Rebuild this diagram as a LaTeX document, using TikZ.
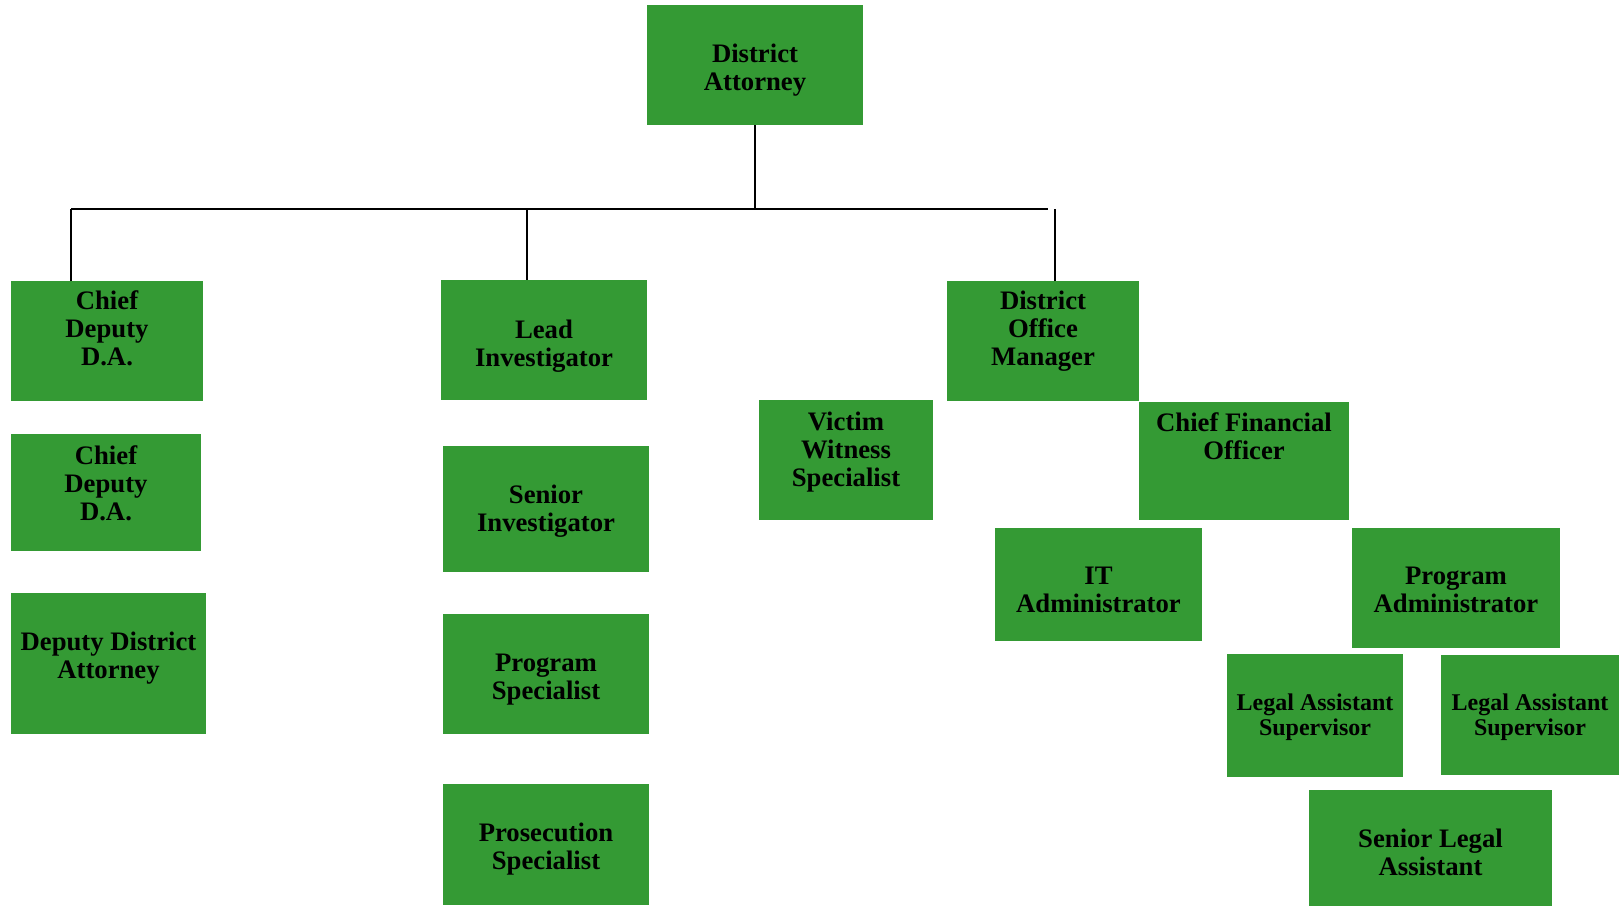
\documentclass[tikz,border=0pt]{standalone}
\usepackage{fontspec}
\setmainfont{Liberation Serif}
\definecolor{boxgreen}{HTML}{349A34}
\tikzset{
  gbox/.style={fill=boxgreen, draw=none, inner sep=0pt, outer sep=0pt},
  lbl/.style={inner sep=0pt, align=center, text=black, anchor=north, font=\bfseries\fontsize{26.7}{28}\selectfont},
  lblsmall/.style={inner sep=0pt, align=center, text=black, anchor=north, font=\bfseries\fontsize{24}{25}\selectfont},
  conn/.style={draw=black, line width=2pt}
}
% name, x1, y1, x2, y2, text, first baseline, style
\newcommand\orgbox[8]{%
  \node[gbox, minimum width={#4-#2}, minimum height={#5-#3}] (#1) at ({(#2+#4)/2},{(#3+#5)/2}) {};
  \node[#8] (#1-t) at ({(#2+#4)/2},{#7-20}) {\rule{0pt}{20pt}#6};}
\begin{document}
\begin{tikzpicture}[x=1pt,y=-1pt]
\useasboundingbox (0,0) rectangle (1621,906);
\orgbox{DA}{647}{5}{863}{125}{District\\Attorney}{62.5}{lbl}
\orgbox{CDa}{11}{281}{203}{401}{Chief\\Deputy\\D.A.}{309.3}{lbl}
\orgbox{CDb}{11}{434}{201}{551}{Chief\\Deputy\\D.A.}{464}{lbl}
\orgbox{DDA}{11}{593}{206}{734}{Deputy District\\Attorney}{650.7}{lbl}
\orgbox{LI}{441}{280}{647}{400}{Lead\\Investigator}{338}{lbl}
\orgbox{SI}{443}{446}{649}{572}{Senior\\Investigator}{503.3}{lbl}
\orgbox{PS}{443}{614}{649}{734}{Program\\Specialist}{671}{lbl}
\orgbox{PRS}{443}{784}{649}{905}{Prosecution\\Specialist}{841.7}{lbl}
\orgbox{VW}{759}{400}{933}{520}{Victim\\Witness\\Specialist}{430}{lbl}
\orgbox{DOM}{947}{281}{1139}{401}{District\\Office\\Manager}{309.3}{lbl}
\orgbox{CFO}{1139}{402}{1349}{520}{Chief Financial\\Officer}{431.7}{lbl}
\orgbox{IT}{995}{528}{1202}{641}{IT\\Administrator}{584.3}{lbl}
\orgbox{PA}{1352}{528}{1560}{648}{Program\\Administrator}{584.3}{lbl}
\orgbox{LASa}{1227}{654}{1403}{777}{Legal Assistant\\Supervisor}{710}{lblsmall}
\orgbox{LASb}{1441}{655}{1619}{775}{Legal Assistant\\Supervisor}{710}{lblsmall}
\orgbox{SLA}{1309}{790}{1552}{906}{Senior Legal\\Assistant}{847.3}{lbl}
\coordinate (hl) at (71,209);
\coordinate (hr) at (1048,209);
\coordinate (hj) at (755,209);
\coordinate (hli) at (527,209);
\coordinate (hdom) at (1055,209);
\draw[conn] (DA.south) -- (hj);
\draw[conn] (hl) -- (hr);
\draw[conn] (hl) -- (hl |- CDa.north);
\draw[conn] (hli) -- (hli |- LI.north);
\draw[conn] (hdom) -- (hdom |- DOM.north);
\end{tikzpicture}
\end{document}
